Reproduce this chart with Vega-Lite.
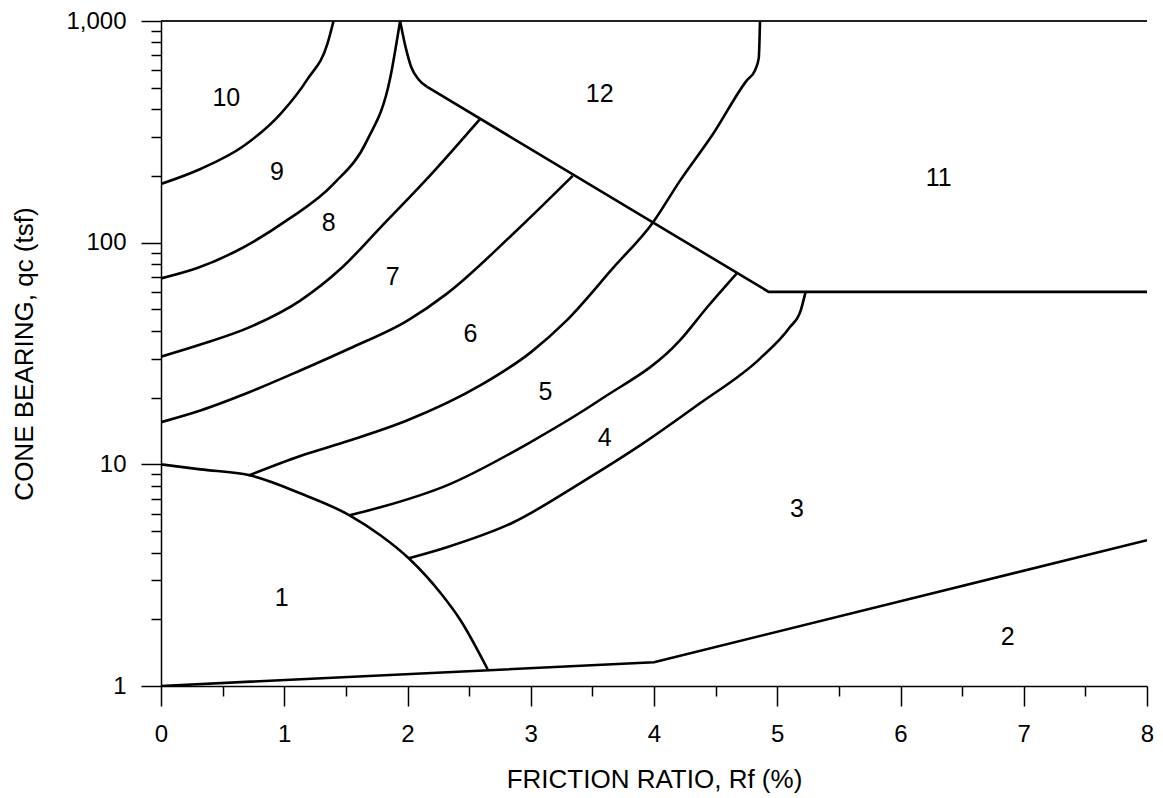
{
  "$schema": "https://vega.github.io/schema/vega-lite/v6.json",
  "autosize": "none",
  "width": 986,
  "height": 665,
  "padding": {"left": 161, "top": 21, "right": 16, "bottom": 112},
  "background": "white",
  "config": {
    "view": {"stroke": null},
    "font": "Liberation Sans",
    "axis": {
      "grid": false,
      "domainColor": "black",
      "domainWidth": 1.5,
      "tickColor": "black",
      "tickWidth": 1.5,
      "labelColor": "black",
      "titleColor": "black",
      "labelFont": "Liberation Sans",
      "titleFont": "Liberation Sans",
      "titleFontWeight": "normal",
      "labelFontSize": 24,
      "titleFontSize": 26,
      "labelOverlap": false,
      "labelFlush": false
    }
  },
  "datasets": {
    "lines": [
      {"seg":"z1","o":1,"x":0,"y":10},{"seg":"z1","o":2,"x":0.32,"y":9.49},{"seg":"z1","o":3,"x":0.72,"y":8.92},{"seg":"z1","o":4,"x":1.13,"y":7.4},{"seg":"z1","o":5,"x":1.53,"y":5.89},{"seg":"z1","o":6,"x":1.78,"y":4.79},{"seg":"z1","o":7,"x":2.01,"y":3.77},{"seg":"z1","o":8,"x":2.27,"y":2.62},{"seg":"z1","o":9,"x":2.43,"y":1.98},{"seg":"z1","o":10,"x":2.65,"y":1.19},
      {"seg":"bot","o":1,"x":0,"y":1},{"seg":"bot","o":2,"x":4.0,"y":1.28},{"seg":"bot","o":3,"x":8,"y":4.55},
      {"seg":"s56","o":1,"x":0.71,"y":8.9},{"seg":"s56","o":2,"x":1.13,"y":10.9},{"seg":"s56","o":3,"x":1.53,"y":12.8},{"seg":"s56","o":4,"x":2.0,"y":15.8},{"seg":"s56","o":5,"x":2.59,"y":22.7},{"seg":"s56","o":6,"x":3.0,"y":32},{"seg":"s56","o":7,"x":3.29,"y":44.5},{"seg":"s56","o":8,"x":3.67,"y":77.1},{"seg":"s56","o":9,"x":3.99,"y":123},{"seg":"s56","o":10,"x":4.21,"y":190},{"seg":"s56","o":11,"x":4.48,"y":310},{"seg":"s56","o":12,"x":4.75,"y":537},{"seg":"s56","o":13,"x":4.82,"y":600},{"seg":"s56","o":14,"x":4.85,"y":680},{"seg":"s56","o":15,"x":4.86,"y":1000},
      {"seg":"s45","o":1,"x":1.53,"y":5.89},{"seg":"s45","o":2,"x":1.78,"y":6.4},{"seg":"s45","o":3,"x":2.32,"y":8.04},{"seg":"s45","o":4,"x":3.02,"y":12.8},{"seg":"s45","o":5,"x":3.56,"y":19.5},{"seg":"s45","o":6,"x":4.21,"y":36.2},{"seg":"s45","o":7,"x":4.43,"y":51},{"seg":"s45","o":8,"x":4.67,"y":72.5},
      {"seg":"s34","o":1,"x":2.01,"y":3.77},{"seg":"s34","o":2,"x":2.32,"y":4.23},{"seg":"s34","o":3,"x":2.86,"y":5.48},{"seg":"s34","o":4,"x":3.4,"y":8.21},{"seg":"s34","o":5,"x":3.89,"y":12.2},{"seg":"s34","o":6,"x":4.37,"y":18.8},{"seg":"s34","o":7,"x":4.86,"y":30},{"seg":"s34","o":8,"x":5.1,"y":41.4},{"seg":"s34","o":9,"x":5.19,"y":49.4},{"seg":"s34","o":10,"x":5.23,"y":60},
      {"seg":"s67","o":1,"x":0,"y":15.5},{"seg":"s67","o":2,"x":0.32,"y":17.5},{"seg":"s67","o":3,"x":0.72,"y":21.2},{"seg":"s67","o":4,"x":1.13,"y":26.5},{"seg":"s67","o":5,"x":1.53,"y":33.3},{"seg":"s67","o":6,"x":2.0,"y":44.5},{"seg":"s67","o":7,"x":2.32,"y":58.9},{"seg":"s67","o":8,"x":2.86,"y":110},{"seg":"s67","o":9,"x":3.34,"y":200},
      {"seg":"s78","o":1,"x":0,"y":30.6},{"seg":"s78","o":2,"x":0.32,"y":34.7},{"seg":"s78","o":3,"x":0.73,"y":41.8},{"seg":"s78","o":4,"x":1.13,"y":54.8},{"seg":"s78","o":5,"x":1.46,"y":76.4},{"seg":"s78","o":6,"x":1.78,"y":117},{"seg":"s78","o":7,"x":2.18,"y":200},{"seg":"s78","o":8,"x":2.59,"y":362},
      {"seg":"s89","o":1,"x":0,"y":69},{"seg":"s89","o":2,"x":0.3,"y":77},{"seg":"s89","o":3,"x":0.6,"y":91},{"seg":"s89","o":4,"x":1.02,"y":126},{"seg":"s89","o":5,"x":1.4,"y":184},{"seg":"s89","o":6,"x":1.67,"y":288},{"seg":"s89","o":7,"x":1.86,"y":554},{"seg":"s89","o":8,"x":1.94,"y":1000},
      {"seg":"s910","o":1,"x":0,"y":184},{"seg":"s910","o":2,"x":0.32,"y":215},{"seg":"s910","o":3,"x":0.67,"y":273},{"seg":"s910","o":4,"x":0.97,"y":381},{"seg":"s910","o":5,"x":1.19,"y":548},{"seg":"s910","o":6,"x":1.35,"y":788},{"seg":"s910","o":7,"x":1.4,"y":1000},
      {"seg":"cusp","o":1,"x":1.94,"y":1000},{"seg":"cusp","o":2,"x":1.985,"y":760},{"seg":"cusp","o":3,"x":2.03,"y":620},{"seg":"cusp","o":4,"x":2.09,"y":545},{"seg":"cusp","o":5,"x":2.16,"y":504},
      {"seg":"diag","o":1,"x":2.16,"y":504},{"seg":"diag","o":2,"x":4.93,"y":60},{"seg":"diag","o":3,"x":8,"y":60}
    ]
  },
  "layer": [
    {
      "data": {"values": [{"top": 1000}]},
      "mark": {"type": "rule", "color": "#222", "strokeWidth": 2},
      "encoding": {"y": {"field": "top", "type": "quantitative", "scale": {"type": "log", "domain": [1, 1000], "nice": false}}}
    },
    {
      "data": {"name": "lines"},
      "transform": [{"filter": "datum.seg != 'bot' && datum.seg != 'diag'"}],
      "mark": {"type": "line", "color": "black", "strokeWidth": 2.6, "clip": true, "strokeJoin": "round", "interpolate": "monotone"},
      "encoding": {
        "x": {
          "field": "x", "type": "quantitative",
          "scale": {"domain": [0, 8], "nice": false, "zero": false},
          "axis": {
            "values": [0,0.5,1,1.5,2,2.5,3,3.5,4,4.5,5,5.5,6,6.5,7,7.5,8],
            "labelExpr": "datum.value % 1 == 0 ? format(datum.value, 'd') : ''",
            "tickSize": {"condition": {"test": "datum.value % 1 == 0", "value": 20}, "value": 10},
            "labelPadding": 16,
            "title": "FRICTION RATIO, Rf (%)",
            "titlePadding": 20
          }
        },
        "y": {
          "field": "y", "type": "quantitative",
          "scale": {"type": "log", "domain": [1, 1000], "nice": false},
          "axis": {
            "values": [1,2,3,4,5,6,7,8,9,10,20,30,40,50,60,70,80,90,100,200,300,400,500,600,700,800,900,1000],
            "labelExpr": "indexof([1,10,100,1000], datum.value) >= 0 ? format(datum.value, ',') : ''",
            "tickSize": {"condition": {"test": "indexof([1,10,100,1000], datum.value) >= 0", "value": 20}, "value": 10},
            "labelPadding": 15,
            "title": "CONE BEARING, qc (tsf)",
            "titlePadding": 28
          }
        },
        "detail": {"field": "seg"},
        "order": {"field": "o"}
      }
    },
    {
      "data": {"name": "lines"},
      "transform": [{"filter": "datum.seg == 'bot' || datum.seg == 'diag'"}],
      "mark": {"type": "line", "color": "black", "strokeWidth": 2.6, "clip": true, "strokeJoin": "miter"},
      "encoding": {
        "x": {"field": "x", "type": "quantitative"},
        "y": {"field": "y", "type": "quantitative"},
        "detail": {"field": "seg"},
        "order": {"field": "o"}
      }
    },
    {
      "data": {"values": [
        {"t":"10","x":0.53,"y":450},{"t":"9","x":0.94,"y":209},{"t":"8","x":1.36,"y":123},{"t":"7","x":1.88,"y":70.3},
        {"t":"6","x":2.51,"y":38.9},{"t":"5","x":3.12,"y":21.1},{"t":"4","x":3.6,"y":13.2},{"t":"3","x":5.16,"y":6.27},
        {"t":"2","x":6.87,"y":1.66},{"t":"1","x":0.98,"y":2.49},{"t":"12","x":3.56,"y":469},{"t":"11","x":6.31,"y":196}
      ]},
      "mark": {"type": "text", "fontSize": 25, "font": "Liberation Sans", "color": "black", "align": "center", "baseline": "middle"},
      "encoding": {
        "x": {"field": "x", "type": "quantitative"},
        "y": {"field": "y", "type": "quantitative"},
        "text": {"field": "t"}
      }
    }
  ]
}
